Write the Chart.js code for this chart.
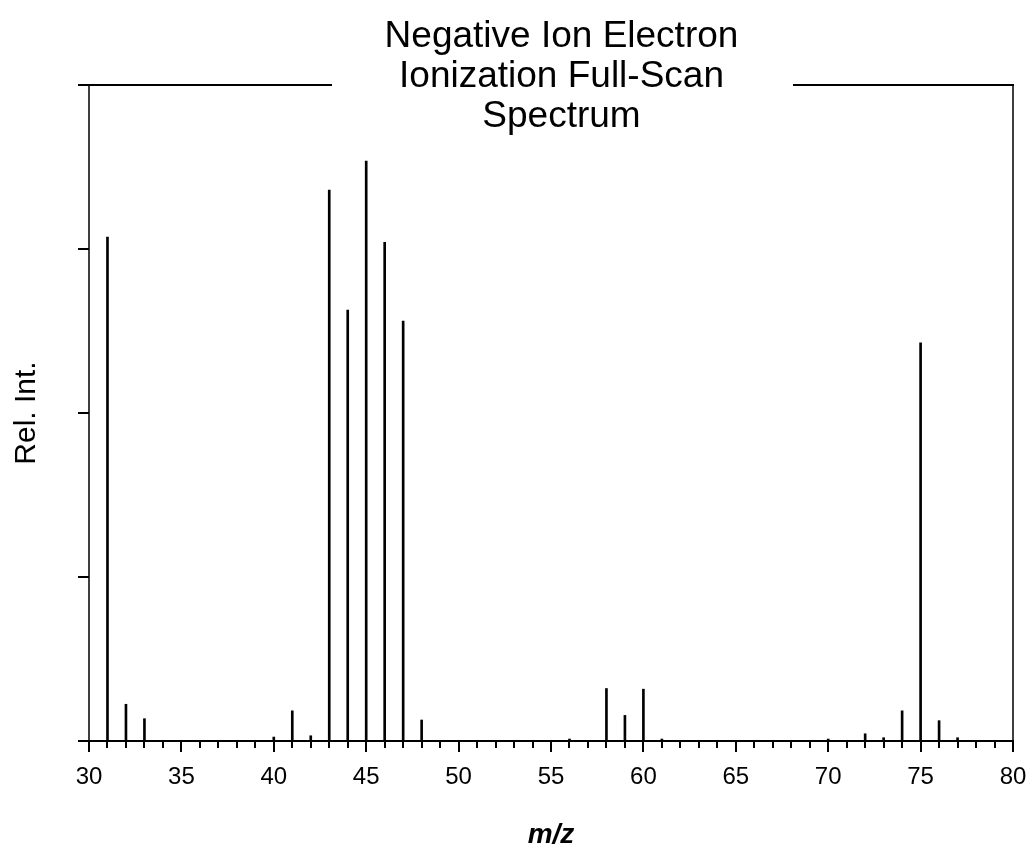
<!DOCTYPE html>
<html>
<head>
<meta charset="utf-8">
<script src="https://cdn.jsdelivr.net/npm/chart.js@4/dist/chart.umd.min.js"></script>
<style>
  html, body { margin: 0; padding: 0; background: #fff; }
  #wrap { width: 1029px; height: 846px; }
</style>
</head>
<body>
<div id="wrap"><canvas id="c" width="1029" height="846"></canvas></div>
<script>
// ---- data ----
const mzValues = [31, 32, 33, 40, 41, 42, 43, 44, 45, 46, 47, 48, 56, 58, 59, 60, 61, 70, 72, 73, 74, 75, 76, 77];
const relIntensity = [76.8, 5.6, 3.4, 0.6, 4.6, 0.8, 84.0, 65.7, 88.4, 76.0, 64.0, 3.2, 0.3, 8.0, 3.9, 7.9, 0.3, 0.3, 1.1, 0.5, 4.6, 60.7, 3.1, 0.5];
const titleLines = ['Negative Ion Electron', 'Ionization Full-Scan', 'Spectrum'];
const xTitle = 'm/z';
const yTitle = 'Rel. Int.';
const xMin = 30, xMax = 80, xMajorStep = 5, xMinorStep = 1;
const yMin = 0, yMax = 100, yStep = 25;

const FONT = "'Liberation Sans', Arial, sans-serif";

const points = mzValues.map((m, i) => ({ x: m, y: relIntensity[i] }));

const framePlugin = {
  id: 'frame',
  afterDraw(chart) {
    const ctx = chart.ctx;
    const ca = chart.chartArea;
    const xs = chart.scales.x, ys = chart.scales.y;
    ctx.save();
    ctx.strokeStyle = '#000';
    ctx.lineCap = 'butt';
    // x ticks (minor + major)
    ctx.lineWidth = 2;
    for (let v = xMin; v <= xMax; v += xMinorStep) {
      const px = Math.round(xs.getPixelForValue(v));
      const len = (v % xMajorStep === 0) ? 11 : 7;
      ctx.beginPath();
      ctx.moveTo(px, ca.bottom);
      ctx.lineTo(px, ca.bottom + len);
      ctx.stroke();
    }
    // y ticks
    for (let v = yMin; v <= yMax; v += yStep) {
      const py = Math.round(ys.getPixelForValue(v));
      ctx.beginPath();
      ctx.moveTo(ca.left - 11, py);
      ctx.lineTo(ca.left, py);
      ctx.stroke();
    }
    // frame
    ctx.lineWidth = 2;
    ctx.beginPath();
    ctx.moveTo(ca.left - 11, ca.top); ctx.lineTo(ca.right + 1, ca.top);
    ctx.moveTo(ca.left - 11, ca.bottom); ctx.lineTo(ca.right + 1, ca.bottom);
    ctx.stroke();
    ctx.lineWidth = 1.5;
    ctx.beginPath();
    ctx.moveTo(ca.left, ca.top); ctx.lineTo(ca.left, ca.bottom);
    ctx.moveTo(ca.right, ca.top - 1); ctx.lineTo(ca.right, ca.bottom);
    ctx.stroke();
    // title with white background
    ctx.fillStyle = '#fff';
    ctx.fillRect(332, 0, 461, 140);
    ctx.fillStyle = '#000';
    ctx.font = "37px " + FONT;
    ctx.textAlign = 'center';
    ctx.textBaseline = 'alphabetic';
    titleLines.forEach((t, i) => ctx.fillText(t, 561.5, 47 + i * 40));
    ctx.restore();
  }
};

new Chart(document.getElementById('c'), {
  type: 'bar',
  data: {
    datasets: [{
      data: points,
      backgroundColor: '#000',
      borderWidth: 0,
      barThickness: 2,
      grouped: false
    }]
  },
  options: {
    responsive: false,
    animation: false,
    layout: { padding: { top: 85, right: 16, left: 0, bottom: 0 } },
    plugins: { legend: { display: false }, tooltip: { enabled: false }, title: { display: false } },
    scales: {
      x: {
        type: 'linear',
        min: xMin, max: xMax,
        offset: false,
        border: { display: false },
        grid: { display: true, drawOnChartArea: false, drawTicks: true, tickLength: 22, tickColor: 'rgba(0,0,0,0)' },
        ticks: { stepSize: xMajorStep, autoSkip: false, maxRotation: 0, padding: 0, color: '#000', font: { family: FONT, size: 24 } },
        title: { display: true, text: xTitle, color: '#000', padding: { top: 0, bottom: 0 }, font: { family: FONT, size: 28, weight: 'bold', style: 'italic', lineHeight: 0.8 } },
        afterFit(scale) { scale.height = 105; }
      },
      y: {
        min: yMin, max: yMax,
        border: { display: false },
        grid: { display: false },
        ticks: { display: false, stepSize: yStep },
        title: { display: true, text: yTitle, color: '#000', padding: { top: 9, bottom: 0 }, font: { family: FONT, size: 30 } },
        afterFit(scale) { scale.width = 89; }
      }
    }
  },
  plugins: [framePlugin]
});
</script>
</body>
</html>
